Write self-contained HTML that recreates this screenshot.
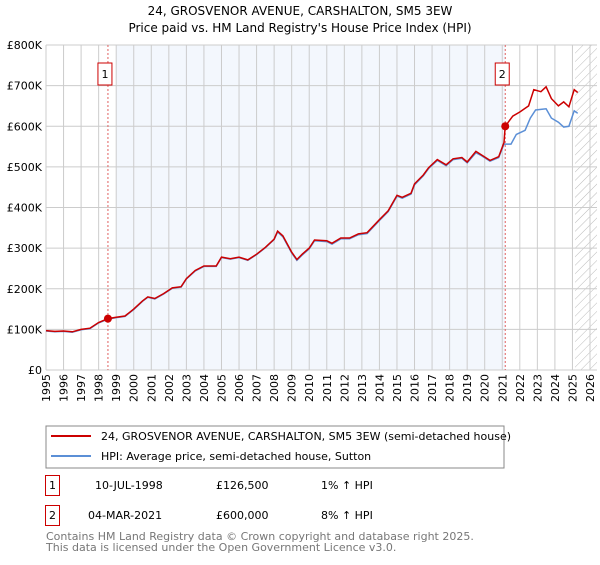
<!DOCTYPE html>
<html><head><meta charset="utf-8"><style>
body{margin:0;background:#fff;font-family:"Liberation Sans","DejaVu Sans",sans-serif;}
svg text{font-family:"DejaVu Sans","Liberation Sans",sans-serif;}
</style></head><body>
<svg id="chart" width="600" height="560">
<defs><pattern id="hatch" width="6" height="6" patternUnits="userSpaceOnUse" patternTransform="rotate(45)"><line x1="0" y1="0" x2="0" y2="6" stroke="#bbb" stroke-width="1"/></pattern></defs>
<text x="300" y="15" text-anchor="middle" font-size="12">24, GROSVENOR AVENUE, CARSHALTON, SM5 3EW</text>
<text x="300" y="32" text-anchor="middle" font-size="12">Price paid vs. HM Land Registry's House Price Index (HPI)</text>
<g id="plot"></g>
<rect x="46" y="426" width="458" height="42" fill="#fff" stroke="#888"/>
<line x1="51" y1="436" x2="91" y2="436" stroke="#cc0000" stroke-width="2"/>
<text x="101" y="440" font-size="11">24, GROSVENOR AVENUE, CARSHALTON, SM5 3EW (semi-detached house)</text>
<line x1="51" y1="456" x2="91" y2="456" stroke="#5b8fd6" stroke-width="2"/>
<text x="101" y="460" font-size="11">HPI: Average price, semi-detached house, Sutton</text>
<rect x="45.5" y="475.5" width="14" height="20" fill="none" stroke="#cc0000"/>
<text x="52.5" y="489" font-size="11" text-anchor="middle">1</text>
<text x="95" y="489" font-size="11">10-JUL-1998</text>
<text x="216" y="489" font-size="11">£126,500</text>
<text x="321" y="489" font-size="11">1% ↑ HPI</text>
<rect x="45.5" y="505.5" width="14" height="20" fill="none" stroke="#cc0000"/>
<text x="52.5" y="519" font-size="11" text-anchor="middle">2</text>
<text x="88" y="519" font-size="11">04-MAR-2021</text>
<text x="216" y="519" font-size="11">£600,000</text>
<text x="321" y="519" font-size="11">8% ↑ HPI</text>
<text x="46" y="540" font-size="11" fill="#777">Contains HM Land Registry data © Crown copyright and database right 2025.</text>
<text x="46" y="551" font-size="11" fill="#777">This data is licensed under the Open Government Licence v3.0.</text>
</svg>
<script>
const yTicks=[0,100,200,300,400,500,600,700,800];
const yLabels=["£0","£100K","£200K","£300K","£400K","£500K","£600K","£700K","£800K"];
const xYears=[1995,1996,1997,1998,1999,2000,2001,2002,2003,2004,2005,2006,2007,2008,2009,2010,2011,2012,2013,2014,2015,2016,2017,2018,2019,2020,2021,2022,2023,2024,2025,2026];
const saleYears=[1998.53,2021.17];
const salePrices=[126.5,600];
const priceT=[1995,1995.5,1996,1996.5,1997,1997.5,1998,1998.53,1999,1999.5,2000,2000.5,2000.8,2001.2,2001.7,2002.2,2002.7,2003,2003.5,2004,2004.7,2005,2005.5,2006,2006.5,2007,2007.5,2008,2008.2,2008.5,2009,2009.3,2009.6,2010,2010.3,2011,2011.3,2011.8,2012.3,2012.8,2013.3,2014,2014.5,2015,2015.3,2015.8,2016,2016.5,2016.8,2017.3,2017.8,2018.2,2018.7,2019,2019.5,2019.8,2020.3,2020.8,2021.1,2021.17,2021.6,2022,2022.5,2022.8,2023.2,2023.5,2023.8,2024.2,2024.5,2024.8,2025.1,2025.3];
const priceV=[97,95,96,94,100,103,117,126.5,130,133,150,170,180,176,188,202,205,225,245,256,256,278,274,278,271,285,302,322,342,330,290,272,285,300,320,318,312,325,325,335,338,370,392,430,425,435,458,480,498,518,505,520,523,512,538,530,516,525,560,600,625,635,650,690,685,697,668,650,660,648,690,683];
const hpiT=[1995,1995.5,1996,1996.5,1997,1997.5,1998,1998.53,1999,1999.5,2000,2000.5,2000.8,2001.2,2001.7,2002.2,2002.7,2003,2003.5,2004,2004.7,2005,2005.5,2006,2006.5,2007,2007.5,2008,2008.2,2008.5,2009,2009.3,2009.6,2010,2010.3,2011,2011.3,2011.8,2012.3,2012.8,2013.3,2014,2014.5,2015,2015.3,2015.8,2016,2016.5,2016.8,2017.3,2017.8,2018.2,2018.7,2019,2019.5,2019.8,2020.3,2020.8,2021.1,2021.5,2021.8,2022.3,2022.6,2022.9,2023.5,2023.8,2024.2,2024.5,2024.8,2025.1,2025.3];
const hpiV=[96,94,95,93,99,102,116,125,129,132,149,169,179,175,187,201,204,224,244,255,255,277,273,277,270,284,301,321,340,328,288,270,283,298,318,316,310,323,323,333,336,368,390,428,423,433,456,478,496,516,503,518,521,510,535,528,514,523,556,556,580,590,620,640,643,620,610,598,600,638,632];
const L=46,R=590,T=45,B=370,X0=1995,X1=2026;
const xs=y=>L+(y-X0)*(R-L)/(X1-X0), ys=v=>B-v*(B-T)/800;
const NS="http://www.w3.org/2000/svg", g=document.getElementById('plot');
function mk(tag,a,p){const e=document.createElementNS(NS,tag);for(const k in a)e.setAttribute(k,a[k]);(p||g).appendChild(e);return e;}
let e;
e=mk('rect',{x:xs(1999),y:T,width:xs(saleYears[1])-xs(1999),height:B-T,fill:'#eef3fc',opacity:0.7});


e=mk('rect',{x:xs(2025.15),y:T,width:R+7-xs(2025.15),height:B-T,fill:'url(#hatch)'});


xYears.forEach(y=>{e=mk('line',{x1:xs(y),x2:xs(y),y1:T,y2:B,stroke:'#ccc'});


const t=mk('text',{x:0,y:0,'font-size':11,'text-anchor':'end',transform:`translate(${xs(y)+4},${B+4}) rotate(-90)`});t.textContent=y;

});
yTicks.forEach((v,i)=>{e=mk('line',{x1:L,x2:R+7,y1:ys(v),y2:ys(v),stroke:'#ccc'});


const t=mk('text',{x:L-4,y:ys(v)+4,'font-size':11,'text-anchor':'end'});t.textContent=yLabels[i];

});
saleYears.forEach((s,i)=>{e=mk('line',{x1:xs(s),x2:xs(s),y1:T,y2:B,stroke:'#e06060','stroke-dasharray':'2,2'});


const bx=mk('rect',{x:xs(s)-10,y:T+18,width:14,height:22,fill:'#fff',stroke:'#cc0000'});


const t=mk('text',{x:xs(s)-3,y:T+33,'font-size':11,'text-anchor':'middle'});t.textContent=i+1;

});
const path=(T_,V)=>T_.map((t,i)=>(i?'L':'M')+xs(t).toFixed(1)+','+ys(V[i]).toFixed(1)).join('');
e=mk('path',{d:path(hpiT,hpiV),fill:'none',stroke:'#5b8fd6','stroke-width':1.5});


e=mk('path',{d:path(priceT,priceV),fill:'none',stroke:'#cc0000','stroke-width':1.5});


saleYears.forEach((s,i)=>{e=mk('circle',{cx:xs(s),cy:ys(salePrices[i]),r:4,fill:'#cc0000'});

});
</script>
</body></html>
